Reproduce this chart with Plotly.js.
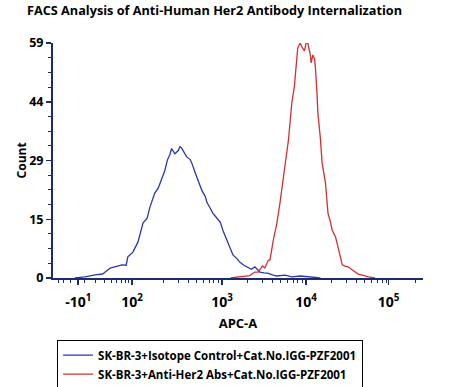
<!DOCTYPE html>
<html><head><meta charset="utf-8">
<script src="https://cdn.plot.ly/plotly-3.0.1.min.js"></script>
<style>html,body{margin:0;padding:0;background:#fff}#c{width:450px;height:387px}</style>
</head><body><div id="c"></div>
<script>
// x in display decades (biexponential-like axis units), y = Count
const isoX = [1.25,1.37,1.49,1.58,1.67,1.75,1.81,1.86,1.88,1.94,2.00,2.06,2.11,2.14,2.20,2.24,2.29,2.32,2.35,2.38,2.40,2.44,2.48,2.50,2.52,2.56,2.58,2.62,2.64,2.68,2.70,2.74,2.76,2.80,2.82,2.86,2.89,2.94,2.98,3.01,3.05,3.07,3.11,3.13,3.18,3.21,3.26,3.30,3.35,3.39,3.43,3.45,3.50,3.54,3.60,3.65,3.75,3.83,3.93,4.05,4.17];
const isoY = [0,0.3,0.8,1,2.5,3,3.3,3.2,5.3,6.5,9,13.8,15,17.6,21.3,22.5,25.4,27,29.6,31,32.5,31.2,32,33,32.6,31,30.4,29.8,28.9,26.5,25.4,23.5,22,20.5,19,17.5,16.3,15,14,12,10,8.8,7,5.8,4.8,4,3.2,2.8,2.2,2.8,2,1.5,1.3,1.2,0.8,0.5,0.7,0.3,0.5,0.2,0];
const her2X = [3.10,3.21,3.33,3.39,3.43,3.48,3.51,3.55,3.57,3.61,3.65,3.69,3.73,3.76,3.79,3.81,3.83,3.86,3.87,3.89,3.90,3.93,3.95,3.98,4.00,4.02,4.05,4.06,4.08,4.10,4.11,4.13,4.14,4.17,4.19,4.23,4.26,4.29,4.31,4.35,4.38,4.40,4.43,4.46,4.50,4.55,4.58,4.62,4.67,4.74,4.82];
const her2Y = [0,0.3,0.6,1.5,1.5,3,2.5,4.5,4.5,9.5,13.5,19,24.6,30,34.6,40,44,48,50.5,55,57.7,59,58,57,59,59,56,54,56,55,53,46,41.4,35,28.9,23.9,16.3,14,12,10.3,7.8,5.5,3.3,3,2.8,2,1.5,1,0.75,0.3,0];
const xTickVals = [1.29,1.93,3,4,4.98];
const xTickText = ['-10<sup>1</sup>','10<sup>2</sup>','10<sup>3</sup>','10<sup>4</sup>','10<sup>5</sup>'];
const yTickVals = [0,14.75,29.5,44.25,59];
const yTickText = ['0','15','29','44','59'];
const names = ['SK-BR-3+Isotope Control+Cat.No.IGG-PZF2001','SK-BR-3+Anti-Her2 Abs+Cat.No.IGG-PZF2001'];

const xMinor = [];
[1.05,1.12,1.2,1.37,1.5,1.6,1.68,1.75,1.8,1.85,1.89].forEach(v=>xMinor.push(v));
[2,3,4].forEach(d=>{for(let k=2;k<=9;k++){xMinor.push(d+Math.log10(k));}});
xMinor.push(5+Math.log10(2));
const yMinor = [];
for(let i=1;i<16;i++){ if(i%4) yMinor.push(i*59/16); }

const axisCol = '#1c2a6e';
const data = [
  {x: isoX, y: isoY, type:'scatter', mode:'lines', name: names[0], line:{color:'#2b35b3', width:1.3}},
  {x: her2X, y: her2Y, type:'scatter', mode:'lines', name: names[1], line:{color:'#d62f2f', width:1.3}}
];
const layout = {
  width:450, height:387,
  margin:{l:53, r:27, t:43, b:109, autoexpand:false},
  paper_bgcolor:'#fff', plot_bgcolor:'#fff',
  font:{family:'"Open Sans", sans-serif', color:'#000'},
  title:{text:'<b>FACS Analysis of Anti-Human Her2 Antibody Internalization</b>', xref:'container', x:0.06, xanchor:'left', y:0.985, yanchor:'top', font:{size:12.7, color:'#000'}},
  xaxis:{range:[0.99,5.39], showgrid:false, zeroline:false, showline:true, linecolor:axisCol, linewidth:2,
    tickmode:'array', tickvals:xTickVals, ticktext:xTickText, ticks:'outside', ticklen:5, tickwidth:1.5, tickcolor:axisCol,
    tickfont:{size:14, color:'#000', weight:'bold'}, ticklabelstandoff:5,
    minor:{tickmode:'array', tickvals:xMinor, ticks:'outside', ticklen:3, tickwidth:1, tickcolor:axisCol, showgrid:false},
    title:{text:'<b>APC-A</b>', font:{size:13}}},
  yaxis:{range:[0,59], showgrid:false, zeroline:false, showline:true, linecolor:axisCol, linewidth:2,
    tickmode:'array', tickvals:yTickVals, ticktext:yTickText, ticks:'outside', ticklen:5, tickwidth:1.5, tickcolor:axisCol,
    tickfont:{size:12.5, color:'#000', weight:'bold'},
    minor:{tickmode:'array', tickvals:yMinor, ticks:'outside', ticklen:3, tickwidth:1, tickcolor:axisCol, showgrid:false}},
  annotations:[{text:'<b>Count</b>', xref:'paper', yref:'paper', x:-0.084, y:0.5, xanchor:'center', yanchor:'middle', textangle:-90, showarrow:false, font:{size:12, color:'#000'}}],
  showlegend:true,
  legend:{x:0.011, xanchor:'left', y:-0.262, yanchor:'top', bordercolor:'#000', borderwidth:1, bgcolor:'#fff',
    font:{size:11.5, color:'#000', weight:'bold'}, tracegroupgap:0, itemwidth:30, traceorder:'normal'}
};
Plotly.newPlot('c', data, layout, {displayModeBar:false, staticPlot:true});
</script></body></html>
